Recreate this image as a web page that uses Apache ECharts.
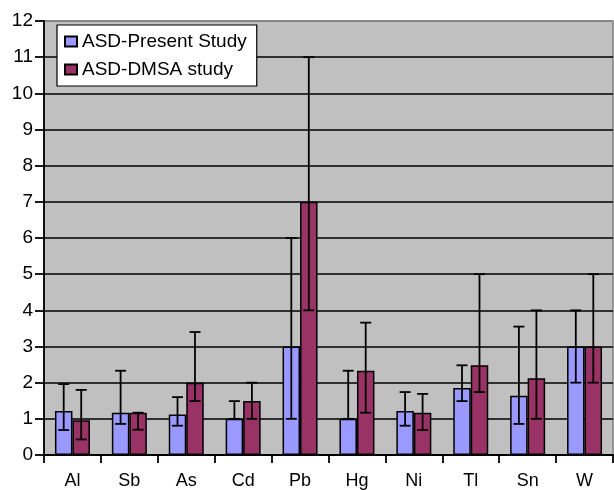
<!DOCTYPE html>
<html>
<head>
<meta charset="utf-8">
<script src="https://cdn.jsdelivr.net/npm/echarts@6/dist/echarts.min.js"></script>
<style>html,body{margin:0;padding:0;background:#fff}#c{width:614px;height:490px}</style>
</head>
<body>
<div id="c"></div>
<script>
var categories = ['Al','Sb','As','Cd','Pb','Hg','Ni','Tl','Sn','W'];
var presentMean = [1.22, 1.17, 1.12, 1.0, 3.0, 1.0, 1.22, 1.85, 1.64, 3.0];
var presentLow  = [0.69, 0.86, 0.81, 1.0, 1.0, 1.0, 0.81, 1.49, 0.86, 2.0];
var presentHigh = [1.96, 2.33, 1.60, 1.49, 6.0, 2.33, 1.74, 2.48, 3.55, 4.0];
var dmsaMean = [0.96, 1.17, 2.0, 1.49, 7.0, 2.33, 1.17, 2.48, 2.12, 3.0];
var dmsaLow  = [0.43, 0.70, 1.49, 1.0, 4.0, 1.17, 0.69, 1.74, 1.0, 2.0];
var dmsaHigh = [1.80, 1.17, 3.40, 2.0, 11.0, 3.66, 1.69, 5.0, 4.0, 5.0];
var yTicks = [0,1,2,3,4,5,6,7,8,9,10,11,12];

var CAT_GAP = 0.385;
function errData(lo, hi) {
  return categories.map(function (c, i) { return [i, lo[i], hi[i]]; });
}
function makeErr(offset) {
  return function (params, api) {
    var ci = api.value(0);
    var lo = api.coord([ci, api.value(1)]);
    var hi = api.coord([ci, api.value(2)]);
    var cw = api.size([1, 0])[0];
    var bw = cw * (1 - CAT_GAP) / 2;
    var x = lo[0] + offset * bw / 2;
    var hw = 5.5;
    var st = { stroke: '#000', lineWidth: 1.8 };
    return {
      type: 'group',
      children: [
        { type: 'line', shape: { x1: x, y1: lo[1], x2: x, y2: hi[1] }, style: st },
        { type: 'line', shape: { x1: x - hw, y1: lo[1], x2: x + hw, y2: lo[1] }, style: st },
        { type: 'line', shape: { x1: x - hw, y1: hi[1], x2: x + hw, y2: hi[1] }, style: st }
      ]
    };
  };
}

var splitColors = yTicks.map(function (t, i) { return i === yTicks.length - 1 ? '#808080' : '#000'; });

var chart = echarts.init(document.getElementById('c'), null, { renderer: 'canvas' });
chart.setOption({
  animation: false,
  textStyle: { fontFamily: 'Liberation Sans, Arial, sans-serif' },
  grid: {
    left: 44, right: 1, top: 21, bottom: 35,
    show: true, backgroundColor: '#C0C0C0', borderColor: '#808080', borderWidth: 1.5
  },
  legend: {
    orient: 'vertical', left: 57, top: 25, width: 198,
    padding: [7, 10, 7, 7],
    itemGap: 9, itemWidth: 12, itemHeight: 10,
    backgroundColor: '#fff', borderColor: '#000', borderWidth: 1.2,
    textStyle: { fontSize: 19, color: '#000', fontFamily: 'Liberation Sans, Arial, sans-serif' },
    data: [
      { name: 'ASD-Present Study', icon: 'rect' },
      { name: 'ASD-DMSA study', icon: 'rect' }
    ]
  },
  xAxis: {
    type: 'category', data: categories,
    axisLine: { lineStyle: { color: '#000', width: 1.8 } },
    axisTick: { show: true, length: 8, lineStyle: { color: '#000', width: 1.8 } },
    axisLabel: { color: '#000', fontSize: 18, margin: 17 },
    splitLine: { show: false }
  },
  yAxis: {
    type: 'value', min: 0, max: 12, interval: 1,
    axisLine: { show: true, lineStyle: { color: '#000', width: 1.8 } },
    axisTick: { show: true, length: 9, lineStyle: { color: '#000', width: 1.8 } },
    axisLabel: { color: '#000', fontSize: 19, margin: 11 },
    splitLine: { show: true, lineStyle: { color: splitColors, width: 1.5 } }
  },
  series: [
    {
      name: 'ASD-Present Study', type: 'bar', data: presentMean,
      barGap: '0%', barCategoryGap: (CAT_GAP * 100) + '%',
      itemStyle: { color: '#9999FF', borderColor: '#000', borderWidth: 1.5 }
    },
    {
      name: 'ASD-DMSA study', type: 'bar', data: dmsaMean,
      barGap: '0%', barCategoryGap: (CAT_GAP * 100) + '%',
      itemStyle: { color: '#993366', borderColor: '#000', borderWidth: 1.5 }
    },
    {
      name: 'errPresent', type: 'custom', z: 10, renderItem: makeErr(-1),
      data: errData(presentLow, presentHigh), encode: { x: 0, y: [1, 2] }
    },
    {
      name: 'errDmsa', type: 'custom', z: 10, renderItem: makeErr(1),
      data: errData(dmsaLow, dmsaHigh), encode: { x: 0, y: [1, 2] }
    }
  ]
});
</script>
</body>
</html>
